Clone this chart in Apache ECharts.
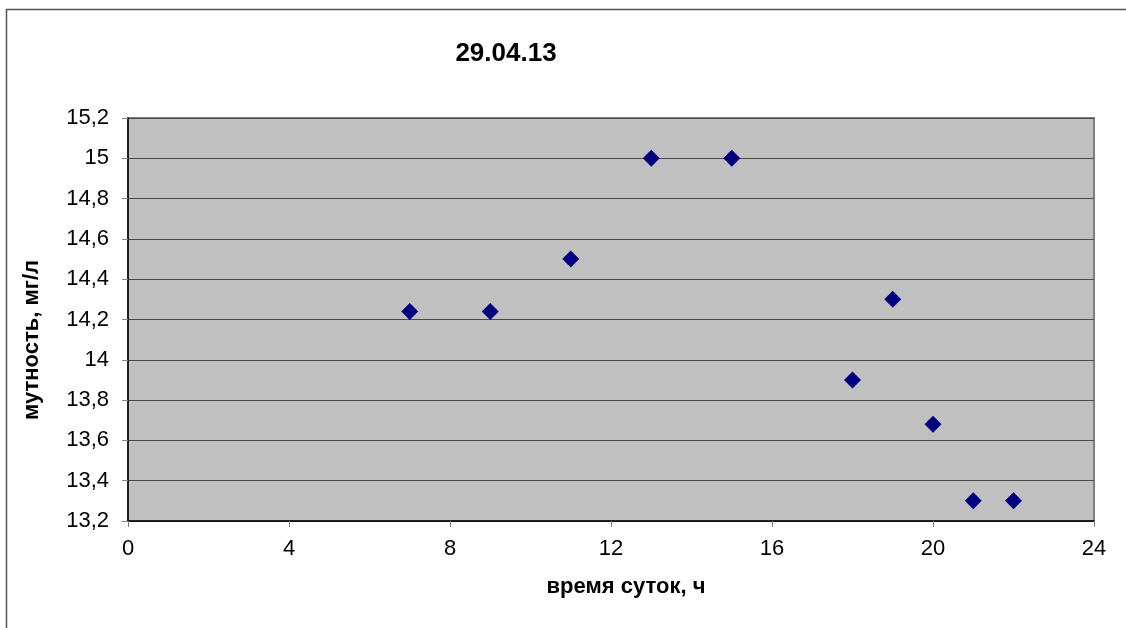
<!DOCTYPE html>
<html>
<head>
<meta charset="utf-8">
<script src="https://cdn.jsdelivr.net/npm/echarts@6/dist/echarts.min.js"></script>
<style>html,body{margin:0;padding:0;background:#fff}#c{width:1126px;height:628px}</style>
</head>
<body>
<div id="c"></div>
<script>
const titleText = '29.04.13';
const xName = 'время суток, ч';
const yName = 'мутность, мг/л';
const hours = [7, 9, 11, 13, 15, 18, 19, 20, 21, 22];
const turbidity = [14.24, 14.24, 14.5, 15, 15, 13.9, 14.3, 13.68, 13.3, 13.3];

const chart = echarts.init(document.getElementById('c'), null, {renderer: 'canvas'});
const font = 'Liberation Sans, Arial, sans-serif';
chart.setOption({
  animation: false,
  backgroundColor: '#fff',
  graphic: [{
    type: 'rect', left: 4, top: 7, z: -10,
    shape: {x: 0, y: 0, width: 1300, height: 800},
    style: {fill: 'none', stroke: '#555', lineWidth: 1.5}
  }, {
    type: 'text', x: 32, y: 340, rotation: Math.PI / 2,
    style: {text: yName, font: 'bold 22px ' + font, fill: '#000', align: 'center', verticalAlign: 'middle'}
  }, {
    type: 'text', x: 626, y: 587,
    style: {text: xName, font: 'bold 22px ' + font, fill: '#000', align: 'center', verticalAlign: 'middle'}
  }],
  title: {
    text: titleText, left: 501, top: 36, textAlign: 'center',
    textStyle: {fontFamily: font, fontSize: 26, fontWeight: 'bold', color: '#000'}
  },
  grid: {
    left: 128, top: 118, width: 966, height: 403,
    show: true, backgroundColor: '#c0c0c0', borderColor: '#808080', borderWidth: 2
  },
  xAxis: {
    type: 'value', min: 0, max: 24, interval: 4,
    axisLine: {show: true, onZero: false, lineStyle: {color: '#000', width: 1.5}},
    axisTick: {show: true, length: 6, lineStyle: {color: '#808080'}},
    axisLabel: {fontFamily: font, fontSize: 22, color: '#000', margin: 17},
    splitLine: {show: false}
  },
  yAxis: {
    type: 'value', min: 13.2, max: 15.2, interval: 0.2,
    axisLine: {show: true, onZero: false, lineStyle: {color: '#000', width: 1.5}},
    axisTick: {show: true, length: 6, lineStyle: {color: '#808080'}},
    axisLabel: {
      fontFamily: font, fontSize: 22, color: '#000', margin: 19,
      formatter: v => String(Math.round(v * 10) / 10).replace('.', ',')
    },
    splitLine: {show: true, lineStyle: {color: '#4a4a4a', width: 1}}
  },
  series: [{
    type: 'scatter',
    data: hours.map((h, i) => [h, turbidity[i]]),
    symbol: 'diamond', symbolSize: [17, 17],
    itemStyle: {color: '#000080', opacity: 1}
  }]
});
</script>
</body>
</html>
